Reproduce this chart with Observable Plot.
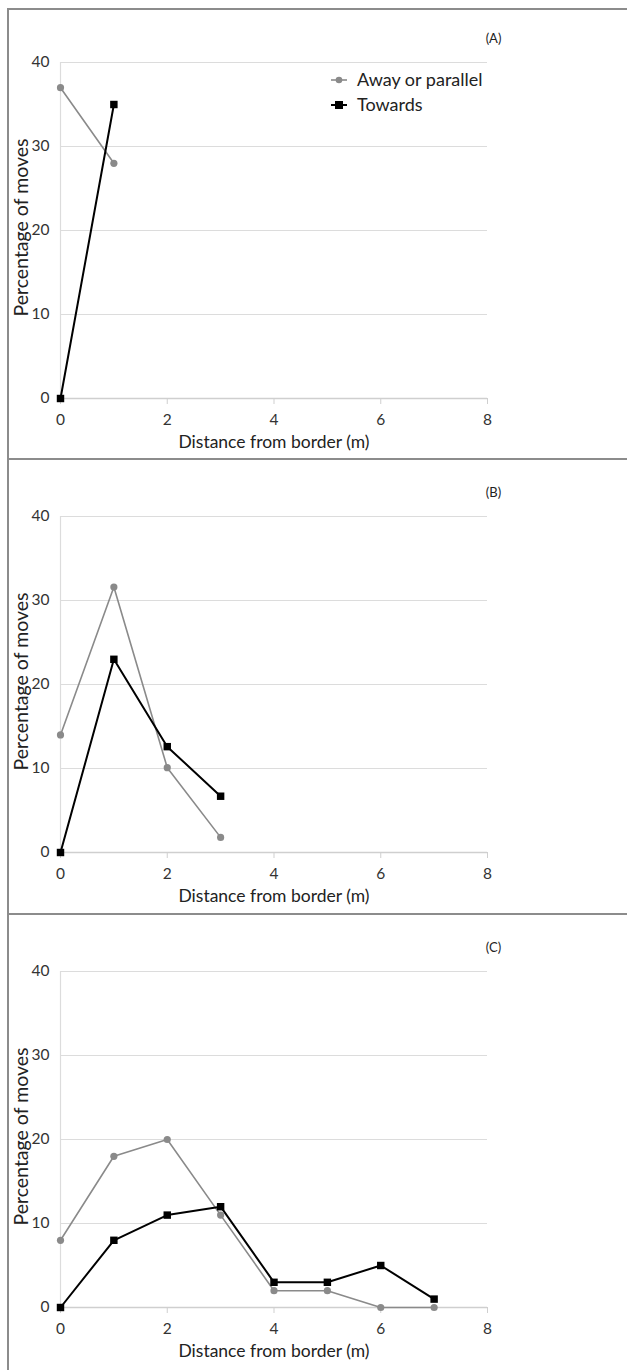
<!DOCTYPE html>
<html>
<head>
<meta charset="utf-8">
<script src="https://cdn.jsdelivr.net/npm/d3@7"></script>
<script src="https://cdn.jsdelivr.net/npm/@observablehq/plot@0.6"></script>
<style>
  html, body { margin: 0; padding: 0; background: #fff; }
  #root { position: relative; width: 627px; height: 1370px; overflow: hidden; font-family: Lato, "Open Sans", sans-serif; }
  .panel { position: absolute; left: 0; width: 627px; }
  .frame { position: absolute; background: #8c8c8c; }
  .legend { position: absolute; left: 330px; top: 67px; font-size: 18px; color: #222; line-height: 25px; }
  .legend div { display: flex; align-items: center; }
  .legend svg { margin-right: 9px; }
</style>
</head>
<body>
<div id="root"></div>
<script>
// ---- data ----
const distances = [0, 1, 2, 3, 4, 5, 6, 7];
const seriesNames = ["Away or parallel", "Towards"];
const panelLabels = ["(A)", "(B)", "(C)"];
const awayA = [37, 28];
const towardsA = [0, 35];
const awayB = [14, 31.6, 10.1, 1.8];
const towardsB = [0, 23, 12.6, 6.7];
const awayC = [8, 18, 20, 11, 2, 2, 0, 0];
const towardsC = [0, 8, 11, 12, 3, 3, 5, 1];
const xTicks = [0, 2, 4, 6, 8];
const yTicks = [0, 10, 20, 30, 40];
const xTitle = "Distance from border (m)";
const yTitle = "Percentage of moves";

const GRAY = "#8a8a8a";
const BLACK = "#000";

function rows(away, towards) {
  const out = [];
  away.forEach((v, i) => out.push({d: distances[i], v, s: seriesNames[0]}));
  towards.forEach((v, i) => out.push({d: distances[i], v, s: seriesNames[1]}));
  return out;
}

function makePanel(label, away, towards, height, marginBottom) {
  const data = rows(away, towards);
  const a = data.filter(r => r.s === seriesNames[0]);
  const t = data.filter(r => r.s === seriesNames[1]);
  return Plot.plot({
    width: 627,
    height,
    marginLeft: 60,
    marginRight: 140,
    marginTop: 62,
    marginBottom,
    style: {fontFamily: "Lato, 'Open Sans', sans-serif", fontSize: "15px", color: "#333", background: "transparent"},
    x: {domain: [0, 8], ticks: xTicks, label: null},
    y: {domain: [0, 40], ticks: yTicks, label: null},
    marks: [
      Plot.gridY(yTicks, {stroke: "#dcdcdc", strokeOpacity: 1, strokeWidth: 1.2}),
      Plot.ruleX([0], {stroke: "#dcdcdc", strokeWidth: 1.2}),
      Plot.ruleY([0], {stroke: "#cfcfcf", strokeWidth: 1.5}),
      Plot.axisX(xTicks, {tickSize: 6, tickPadding: 9, stroke: "#cfcfcf", fontSize: 15.5, fill: "#333"}),
      Plot.axisY(yTicks, {tickSize: 0, tickPadding: 11, fontSize: 15.5, fill: "#333"}),
      Plot.line(a, {x: "d", y: "v", stroke: GRAY, strokeWidth: 1.6}),
      Plot.line(t, {x: "d", y: "v", stroke: BLACK, strokeWidth: 2}),
      Plot.dot(a, {x: "d", y: "v", r: 3.6, fill: GRAY, stroke: null}),
      Plot.dot(t, {x: "d", y: "v", symbol: "square", r: 4.2, fill: BLACK, stroke: null}),
      Plot.text([xTitle], {frameAnchor: "bottom", dy: 49, fontSize: 17.5, fill: "#222"}),
      Plot.text([yTitle], {frameAnchor: "left", textAnchor: "middle", rotate: -90, dx: -39, dy: -3, fontSize: 19.5, fill: "#222"}),
      Plot.text([label], {frameAnchor: "top-right", dx: 6, dy: -29, fontSize: 13, fill: "#222", textAnchor: "middle"})
    ]
  });
}

const root = document.getElementById("root");
const specs = [
  {label: panelLabels[0], away: awayA, towards: towardsA, top: 0, height: 455, mb: 57},
  {label: panelLabels[1], away: awayB, towards: towardsB, top: 454, height: 456, mb: 58},
  {label: panelLabels[2], away: awayC, towards: towardsC, top: 909, height: 461, mb: 63}
];
specs.forEach(s => {
  const div = document.createElement("div");
  div.className = "panel";
  div.style.top = s.top + "px";
  div.appendChild(makePanel(s.label, s.away, s.towards, s.height, s.mb));
  root.appendChild(div);
});

// figure frame lines
function frameLine(left, top, w, h) {
  const f = document.createElement("div");
  f.className = "frame";
  Object.assign(f.style, {left: left + "px", top: top + "px", width: w + "px", height: h + "px"});
  root.appendChild(f);
}
frameLine(7, 8, 1.5, 1362);
frameLine(7, 8, 620, 1.5);
frameLine(7, 458, 620, 1.5);
frameLine(7, 913, 620, 1.5);

// legend (panel A)
const legend = document.createElement("div");
legend.className = "legend";
legend.innerHTML = `
  <div><svg width="18" height="10"><line x1="1" x2="17" y1="5" y2="5" stroke="${GRAY}" stroke-width="1.6"/><circle cx="9" cy="5" r="3.3" fill="${GRAY}"/></svg><span>${seriesNames[0]}</span></div>
  <div><svg width="18" height="10"><line x1="1" x2="17" y1="5" y2="5" stroke="${BLACK}" stroke-width="2"/><rect x="5" y="1" width="8" height="8" fill="${BLACK}"/></svg><span>${seriesNames[1]}</span></div>`;
root.appendChild(legend);
</script>
</body>
</html>
